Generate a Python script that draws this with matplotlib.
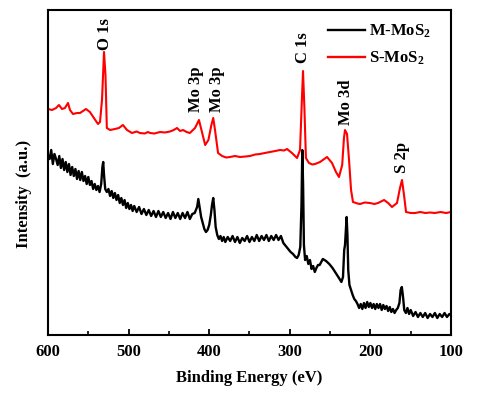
import matplotlib
matplotlib.use("Agg")
import matplotlib.pyplot as plt

plt.rcParams['font.family'] = ['Liberation Serif', 'DejaVu Serif']
plt.rcParams['mathtext.fontset'] = 'custom'
plt.rcParams['mathtext.rm'] = 'Liberation Serif:bold'
plt.rcParams['mathtext.it'] = 'Liberation Serif:italic:bold'
plt.rcParams['mathtext.bf'] = 'Liberation Serif:bold'

# ---- data (binding energy in eV, intensity in a.u.) ----
s_energy = [600, 595, 590, 586.4, 582.6, 579, 575.2, 572.7, 569, 564, 560.3, 556.6, 552.9,
            548, 543, 538, 535.5, 533, 530.5, 528.7, 527, 523, 516.9, 512, 507, 502, 495.8,
            490, 485.9, 480, 476, 473.4, 468, 461, 455, 448.6, 444, 440, 436, 432.5, 428,
            424, 417.6, 412.7, 409, 405, 401, 397.3,
            395, 392.8, 389, 384, 379, 374.2, 368, 361.8, 355, 349.4, 343, 337, 331, 324.6,
            318, 312.2, 307, 303.5, 297.3, 291,
            287.3, 284.8, 283.6, 281.8, 280, 276.2, 272, 268.7, 262.5, 253.8, 247.6, 242.7, 239,
            235, 232.8, 231.5, 229, 226.5, 224, 221.6, 216, 212.9, 207, 200.5, 195, 190.6, 183,
            178, 173.2, 167, 163.3, 160.8, 158.3, 155.8, 150, 144.7, 138, 132, 126, 120, 113,
            106, 100]
s_intensity = [226, 225, 227, 230, 226, 227, 232, 225, 221, 222, 222, 224, 226,
               223, 217, 211, 213, 235, 283, 260, 207, 205, 206, 207, 210, 205, 202,
               203.5, 202, 201.5, 203, 202, 201.5, 203, 202.5, 203.5, 205, 207, 204, 205, 203,
               202, 207, 215, 203, 190, 195, 210,
               217, 205, 182, 179, 177.5, 178, 179, 178, 178.5, 179, 180.5, 181, 182, 183,
               184, 185, 184.5, 186, 182, 177,
               185, 240, 264, 225, 177, 172, 170.5, 171, 173, 178, 172, 163, 158,
               170, 197, 205, 201, 175, 145, 133, 131.5, 131, 132.5, 132, 131, 132, 135,
               132, 128, 132, 147, 155, 140, 123, 122, 122, 123, 122, 122.5, 122, 123,
               122, 123]

m_energy = [600, 598, 596, 594, 592, 590, 588, 586, 584, 582, 580, 578, 576, 574, 572, 570,
            568, 566, 564, 562, 560, 558, 556, 554, 552, 550, 548, 546, 544, 542, 540, 538,
            536, 534, 532.5, 531.5, 530.5, 529, 527, 525, 523, 521, 519, 517, 515, 513, 511,
            509, 507, 505, 503, 501, 499, 497, 495, 493, 490, 487, 484, 481, 478, 475, 472,
            469, 466, 463, 460, 457, 454, 451, 448, 445, 442, 439, 436, 433, 430, 427, 424,
            421, 418, 415, 413.5, 412, 410, 408, 406, 404, 402, 400, 398, 396.5, 395, 393.5,
            392, 390, 388, 386, 384, 382, 380, 377, 374, 371, 368, 365, 362, 359, 356, 353,
            350, 347, 344, 341, 338, 335, 332, 329, 326, 323, 320, 317, 314, 311, 308, 305,
            302, 299, 296, 293, 291, 289, 287, 285.5, 284.5, 283.5, 282.5, 281, 279, 277,
            275, 273, 271, 269, 267, 265, 263, 259, 255, 251, 247, 243, 239, 236, 234,
            232.5, 231.5, 230.5, 229.5, 228.5, 227.5, 226, 224, 222, 220, 218, 216, 214, 212,
            210, 208, 206, 204, 202, 200, 198, 196, 194, 192, 190, 188, 186, 184, 182, 180,
            178, 176, 174, 172, 170, 168, 166, 164, 162.5, 161, 159.5, 158, 156, 154, 152,
            150, 147, 144, 141, 138, 135, 132, 129, 126, 123, 120, 117, 114, 111, 108, 105,
            102, 100]
m_intensity = [180, 176, 185, 171, 181, 176, 170, 179, 167, 176, 165, 173, 163, 171, 160, 168,
               159, 166, 156, 164, 155, 163, 154, 159, 151, 158, 150, 154, 146, 151, 145, 149,
               143, 151, 168, 173, 160, 146, 143, 146, 139, 144, 137, 142, 135, 140, 132,
               137, 130, 135, 127, 132, 126, 130, 124, 129, 123, 128, 121, 126, 120, 125, 119,
               124, 118, 124, 118, 123, 117, 122, 116, 123, 117, 122, 116, 122, 117, 123, 116,
               121, 122, 128, 136, 128, 118, 112, 106, 103, 105, 110, 120, 130, 137, 125,
               108, 100, 96, 99, 94, 98, 93, 98, 94, 99, 93, 98, 92, 97, 94, 99,
               93, 98, 94, 100, 94, 99, 95, 100, 94, 99, 95, 100, 95, 99, 92, 89,
               86, 83, 81, 78, 77, 80, 88, 130, 185, 150, 90, 75, 79, 71,
               75, 66, 69, 63, 67, 70, 70, 76, 74, 71, 67, 62, 57, 53, 58,
               85, 90, 105, 118, 100, 65, 50, 45, 40, 36, 34, 31, 27, 31,
               26, 32, 27, 33, 28, 32, 27, 31, 26, 31, 27, 31, 25, 30, 26, 29,
               24, 28, 23, 26, 22, 25, 27, 32, 45, 48, 38, 25, 22, 27, 21,
               25, 19, 23, 18, 22, 18, 22, 17, 21, 18, 22, 17, 21, 18, 22, 18,
               21, 20]

peak_labels = ['O 1s', 'Mo 3p', 'Mo 3p', 'C 1s', 'Mo 3d', 'S 2p']
peak_label_x = [529.5, 415.8, 390.3, 284.2, 230.3, 160.2]
peak_label_y = [285, 223, 223, 272, 210, 162]

x_ticks = [600, 500, 400, 300, 200, 100]
x_minor = [550, 450, 350, 250, 150]

# ---- figure ----
fig = plt.figure(figsize=(4.79, 3.98), dpi=100)
ax = fig.add_axes([48 / 479, 1 - 335 / 398, 403 / 479, 325 / 398])

ax.plot(m_energy, m_intensity, color='black', lw=1.7, label=r'M-MoS$_2$')
ax.plot(s_energy, s_intensity, color='#ff0000', lw=1.5, label=r'S-MoS$_2$')

for lab, x, y in zip(peak_labels, peak_label_x, peak_label_y):
    ax.text(x, y, lab, rotation=90, ha='center', va='bottom', fontsize=12,
            fontweight='bold')

ax.set_xlim(600, 100)
ax.set_ylim(0, 325)
ax.set_xticks(x_ticks)
ax.set_xticks(x_minor, minor=True)
ax.set_yticks([])
ax.tick_params(axis='x', which='major', direction='in', length=4, width=1.3, pad=6.5,
               labelsize=12)
ax.tick_params(axis='x', which='minor', direction='in', length=3, width=1.2)
for lbl in ax.get_xticklabels():
    lbl.set_fontweight('bold')
for sp in ax.spines.values():
    sp.set_linewidth(1.5)

ax.set_xlabel('Binding Energy (eV)', fontsize=12, fontweight='bold', labelpad=7)
ax.set_ylabel('Intensity  (a.u.)', fontsize=12, fontweight='bold')
ax.yaxis.set_label_coords(-0.04, 0.434)

leg = ax.legend(loc='upper right', bbox_to_anchor=(0.958, 0.972), frameon=False,
                handlelength=2.2, handletextpad=0.25, labelspacing=0.6,
                borderaxespad=0, borderpad=0.2,
                prop={'family': 'Liberation Serif', 'weight': 'bold', 'size': 12})
for h in leg.get_lines():
    h.set_linewidth(1.7)

fig.savefig('out.png', dpi=100, facecolor='white')
